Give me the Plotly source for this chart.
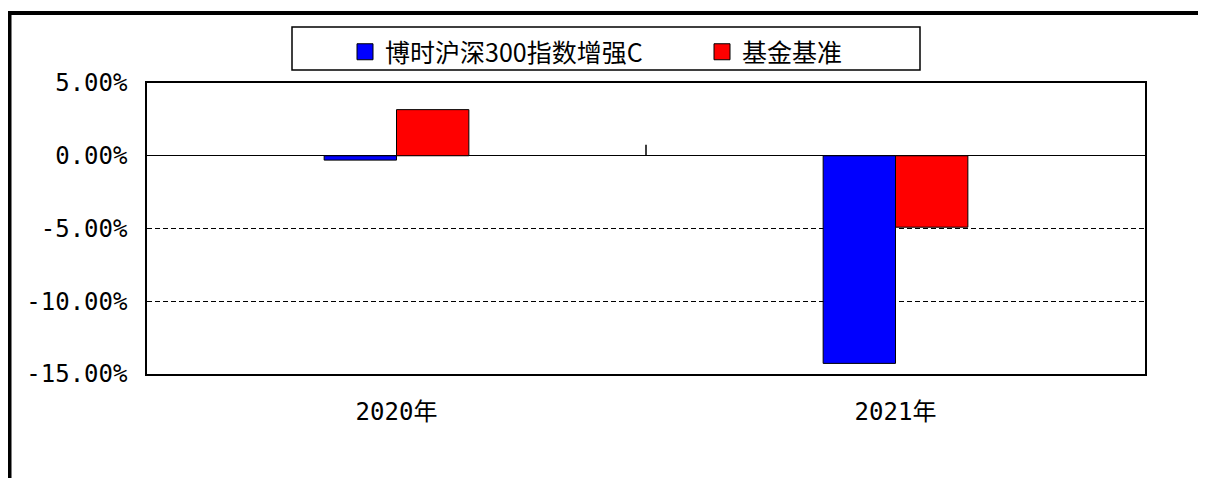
import plotly.graph_objects as go

# ---- data ----
categories = ["2020年", "2021年"]
fund_name = "博时沪深300指数增强C"
bench_name = "基金基准"
fund_returns = [-0.0030, -0.1427]
bench_returns = [0.0317, -0.0491]
y_tickvals = [0.05, 0.0, -0.05, -0.10, -0.15]
y_ticktext = ["5.00%", "0.00%", "-5.00%", "-10.00%", "-15.00%"]

OFF = 8  # page body margin
W, H = 1206 - OFF, 478 - OFF
L, R, T, B = 147 - OFF, 61, 83 - OFF, 104
pw, ph = W - L - R, H - T - B


def px_x(px):
    return (px - OFF - L) / pw


def px_y(py):
    return (H - B - (py - OFF)) / ph


mono = "DejaVu Sans Mono, Noto Sans CJK SC, sans-serif"
cjk = "Noto Sans CJK SC, sans-serif"
fund_color = "#0000FF"
bench_color = "#FF0000"

fig = go.Figure()
fig.add_trace(go.Bar(
    x=categories, y=fund_returns, name=fund_name, legendgroup="f", showlegend=False,
    marker=dict(color=fund_color, line=dict(color="#000000", width=1)),
))
fig.add_trace(go.Bar(
    x=categories, y=bench_returns, name=bench_name, legendgroup="b", showlegend=False,
    marker=dict(color=bench_color, line=dict(color="#000000", width=1)),
))
# legend keys (larger square swatches)
fig.add_trace(go.Scatter(
    x=[None], y=[None], mode="markers", name=fund_name, legendgroup="f",
    marker=dict(symbol="square", size=16, color=fund_color, line=dict(color="black", width=1)),
))
fig.add_trace(go.Scatter(
    x=[None], y=[None], mode="markers", name=bench_name, legendgroup="b",
    marker=dict(symbol="square", size=16, color=bench_color, line=dict(color="black", width=1)),
))

fig.update_layout(
    width=W, height=H,
    margin=dict(l=L, r=R, t=T, b=B, pad=0),
    paper_bgcolor="white", plot_bgcolor="white",
    barmode="group", bargap=0.71, bargroupgap=0,
    showlegend=True,
    legend=dict(
        orientation="h",
        x=px_x(345), y=px_y(29), xanchor="left", yanchor="top",
        bgcolor="rgba(0,0,0,0)", borderwidth=0,
        font=dict(family=cjk, size=25, color="black"),
        entrywidth=312, entrywidthmode="pixels",
        traceorder="normal", itemsizing="trace",
    ),
    font=dict(family=mono, color="black"),
)

fig.update_xaxes(
    type="category", categoryorder="array", categoryarray=categories,
    showline=True, mirror=True, linecolor="black", linewidth=1.5,
    showgrid=False, ticks="", zeroline=False,
    tickfont=dict(family=mono, size=24, color="black"),
    ticklabelstandoff=15,
)
fig.update_yaxes(
    range=[-0.15, 0.05],
    tickvals=y_tickvals, ticktext=y_ticktext,
    showline=True, mirror=True, linecolor="black", linewidth=1.5,
    showgrid=True, gridcolor="black", gridwidth=1.2, griddash="5px,3px",
    zeroline=True, zerolinecolor="black", zerolinewidth=1.2,
    ticks="", tickfont=dict(family=mono, size=24, color="black"),
    ticklabelstandoff=13,
)

shapes = []
# legend frame
shapes.append(dict(type="rect", xref="paper", yref="paper",
                   x0=px_x(292), x1=px_x(920), y0=px_y(70), y1=px_y(27),
                   line=dict(color="black", width=1.5), fillcolor="rgba(0,0,0,0)",
                   layer="below"))
# category boundary tick on the zero line
shapes.append(dict(type="line", xref="x", yref="y", x0=0.5, x1=0.5,
                   y0=0, y1=0.0075, line=dict(color="black", width=1.5)))
# outer frame (top and left edges)
shapes.append(dict(type="line", xref="paper", yref="paper",
                   x0=px_x(8), x1=px_x(1215), y0=px_y(13), y1=px_y(13),
                   line=dict(color="black", width=4)))
shapes.append(dict(type="line", xref="paper", yref="paper",
                   x0=px_x(9.5), x1=px_x(9.5), y0=px_y(11), y1=px_y(490),
                   line=dict(color="black", width=4)))
fig.update_layout(shapes=shapes)

fig.write_html("out.html")
